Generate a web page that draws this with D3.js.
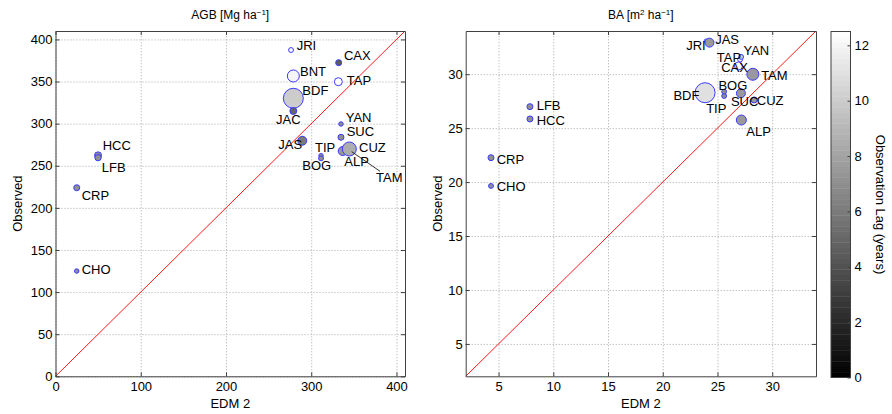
<!DOCTYPE html>
<html>
<head>
<meta charset="utf-8">
<script src="https://cdn.jsdelivr.net/npm/d3@7"></script>
<style>
body { margin: 0; background: white; }
text { font-family: Helvetica, "Liberation Sans", Arial, sans-serif; fill: #000; }
</style>
</head>
<body>
<div id="chart"></div>
<script>
// Site names (drawing order)
var sites = ["JRI","JAS","CAX","BNT","TAP","YAN","BDF","JAC","SUC","TIP","BOG","ALP","TAM","CUZ","HCC","LFB","CRP","CHO"];

// AGB panel data
var agbModel = [276.3, 289.5, 332.2, 279.0, 331.8, 334.9, 279.0, 279.0, 334.9, 311.5, 311.5, 336.9, 347.5, 344.7, 49.9, 49.9, 24.9, 24.9];
var agbObs   = [387.4, 279.7, 372.4, 356.6, 349.8, 299.6, 330.1, 315.0, 283.8, 261.9, 258.8, 267.5, 266.7, 269.9, 262.4, 259.6, 223.9, 125.0];
var agbLag   = [12.5, 6, 4.5, 12, 12.5, 7, 10, 5, 7, 7, 7, 7.5, 7, 8.5, 7, 7, 7, 7];
var agbSize  = [6, 20, 9, 36, 16, 5, 100, 12, 9, 5, 6, 20, 4, 49, 12, 10, 9, 5];

// BA panel data (BNT and JAC missing)
var baModel = [23.97, 24.27, 26.92, null, 27.07, 27.16, 23.87, null, 27.14, 25.61, 25.61, 27.18, 28.23, 28.35, 7.87, 7.87, 4.31, 4.31];
var baObs   = [33.08, 32.92, 30.76, null, 31.36, 31.60, 28.28, null, 28.23, 27.98, 28.38, 25.75, 29.99, 27.61, 25.85, 26.99, 22.26, 19.64];
var baLag   = [12.5, 7.5, 12.5, null, 12.5, 10, 11, null, 7.5, 7, 7, 7.5, 7.5, 7.5, 7, 7, 7, 7];
var baSize  = [4, 20, 16, null, 6, 6, 100, null, 20, 6, 6, 25, 36, 9, 9, 9, 9, 6];

// Tick values
var agbTicksX = [0, 100, 200, 300, 400];
var agbTicksY = [0, 50, 100, 150, 200, 250, 300, 350, 400];
var baTicks = [5, 10, 15, 20, 25, 30];
var lagTicks = [0, 2, 4, 6, 8, 10, 12];

// Label placement (px offset of text left / middle from its point)
var agbLabelDx = [5.7, -24, 5.3, 6.7, 8.4, 4.7, 9, -17.3, 5.7, -6, -18.7, 1.6, 24.3, 9.7, 4.7, 3.7, 5, 5];
var agbLabelDy = [-5, 3.6, -7, -5, -1.7, -6.3, -8.3, 8, -6.3, -8.4, 7.4, 10.7, 25.6, -1.7, -9.6, 10, 8, -1.7];
var baLabelDx = [-20, 5.7, -17.3, 0, -23.3, 2.3, -31.7, 0, -10, -18, -5.7, 5, 8.3, 2.7, 6.7, 6.7, 5.7, 5.7];
var baLabelDy = [4, -3.7, 1.7, 0, -1.8, -6.3, 2.3, 0, 7.7, 12.3, -6.7, 11.7, 0.7, 0.3, 1, -1, 1.6, 0.7];
var agbLeaders = ["TAM"];

var width = 892
var height = 414
var top_y = 31
var bottom_y = 376.3

var svg = d3.select("#chart")
    .append("svg")
    .attr("width", width)
    .attr("height", height)
    .style("background-color", "white")

var r_scale = d3.scaleSqrt().domain([0, 100]).range([0, 10]);
var c_scale = d3.scaleLinear().domain([0, 12.5]).range(["#000000", "#ffffff"]).clamp(true);

function drawPanel(opt) {
    var x_scale = d3.scaleLinear().domain(opt.domain).range([opt.left, opt.right]);
    var y_scale = d3.scaleLinear().domain(opt.domain).range([bottom_y, top_y]);
    var w = opt.right - opt.left
    var h = bottom_y - top_y

    // grid
    svg.append("g")
        .attr("transform", "translate(0," + bottom_y + ")")
        .call(d3.axisBottom(x_scale).tickValues(opt.ticksX).tickSize(-h).tickFormat(""))
        .call(function(g) { g.select(".domain").remove(); })
        .selectAll("line")
        .attr("stroke", "#a8a8a8")
        .attr("stroke-dasharray", "1,2");
    svg.append("g")
        .attr("transform", "translate(" + opt.left + ",0)")
        .call(d3.axisLeft(y_scale).tickValues(opt.ticksY).tickSize(-w).tickFormat(""))
        .call(function(g) { g.select(".domain").remove(); })
        .selectAll("line")
        .attr("stroke", "#a8a8a8")
        .attr("stroke-dasharray", "1,2");

    // 1:1 line
    svg.append("line")
        .attr("x1", x_scale(opt.domain[0]))
        .attr("y1", y_scale(opt.domain[0]))
        .attr("x2", x_scale(opt.domain[1]))
        .attr("y2", y_scale(opt.domain[1]))
        .attr("stroke", "#ff0000")
        .attr("stroke-width", 0.9);

    // axes with inward ticks
    var xb = svg.append("g")
        .attr("transform", "translate(0," + bottom_y + ")")
        .call(d3.axisBottom(x_scale).tickValues(opt.ticksX).tickSizeInner(-4).tickSizeOuter(0).tickPadding(5));
    var yl = svg.append("g")
        .attr("transform", "translate(" + opt.left + ",0)")
        .call(d3.axisLeft(y_scale).tickValues(opt.ticksY).tickSizeInner(-4).tickSizeOuter(0).tickPadding(3));
    var xt = svg.append("g")
        .attr("transform", "translate(0," + top_y + ")")
        .call(d3.axisTop(x_scale).tickValues(opt.ticksX).tickSizeInner(-4).tickSizeOuter(0).tickFormat(""));
    var yr = svg.append("g")
        .attr("transform", "translate(" + opt.right + ",0)")
        .call(d3.axisRight(y_scale).tickValues(opt.ticksY).tickSizeInner(-4).tickSizeOuter(0).tickFormat(""));
    [xb, yl, xt, yr].forEach(function(g) {
        g.selectAll("path, line").attr("stroke", "#404040");
        g.selectAll("text").style("font-size", "13px").attr("fill", "#000");
    });

    // points
    var idx = d3.range(sites.length).filter(function(i) { return opt.xs[i] != null; });
    svg.append("g")
        .selectAll("circle")
        .data(idx)
        .enter()
        .append("circle")
        .attr("cx", function(i) { return x_scale(opt.xs[i]); })
        .attr("cy", function(i) { return y_scale(opt.ys[i]); })
        .attr("r", function(i) { return r_scale(opt.size[i]); })
        .style("fill", function(i) { return c_scale(opt.lag[i]); })
        .style("stroke", "#3a3aff")
        .style("stroke-width", 1);

    // leader lines
    svg.append("g")
        .selectAll("line")
        .data(idx.filter(function(i) { return opt.leaders.indexOf(sites[i]) >= 0; }))
        .enter()
        .append("line")
        .attr("x1", function(i) { return x_scale(opt.xs[i]); })
        .attr("y1", function(i) { return y_scale(opt.ys[i]); })
        .attr("x2", function(i) { return x_scale(opt.xs[i]) + opt.dx[i] + 4; })
        .attr("y2", function(i) { return y_scale(opt.ys[i]) + opt.dy[i] - 6; })
        .attr("stroke", "#000")
        .attr("stroke-width", 0.8);

    // labels
    svg.append("g")
        .selectAll("text")
        .data(idx)
        .enter()
        .append("text")
        .attr("x", function(i) { return x_scale(opt.xs[i]) + opt.dx[i]; })
        .attr("y", function(i) { return y_scale(opt.ys[i]) + opt.dy[i]; })
        .attr("dy", "0.36em")
        .style("font-size", "13px")
        .text(function(i) { return sites[i]; });

    // titles and axis labels
    var cx = (opt.left + opt.right) / 2
    var title = svg.append("text")
        .attr("x", cx)
        .attr("y", 19)
        .attr("text-anchor", "middle")
        .style("font-size", "12px");
    opt.title.forEach(function(p) {
        var t = title.append("tspan").text(p[0]);
        if (p[1]) t.attr("baseline-shift", "super").style("font-size", "8px");
    });

    svg.append("text")
        .attr("x", cx)
        .attr("y", 408)
        .attr("text-anchor", "middle")
        .style("font-size", "13px")
        .text("EDM 2");

    svg.append("text")
        .attr("transform", "translate(" + opt.ylabX + "," + ((top_y + bottom_y) / 2) + ") rotate(-90)")
        .attr("text-anchor", "middle")
        .style("font-size", "13px")
        .text("Observed");
}

drawPanel({
    left: 55.5, right: 405, domain: [0, 410],
    ticksX: agbTicksX, ticksY: agbTicksY,
    xs: agbModel, ys: agbObs, lag: agbLag, size: agbSize,
    dx: agbLabelDx, dy: agbLabelDy, leaders: agbLeaders,
    title: [["AGB [Mg ha"], ["\u22121", true], ["]"]],
    ylabX: 22
});

drawPanel({
    left: 465.7, right: 816, domain: [2, 34],
    ticksX: baTicks, ticksY: baTicks,
    xs: baModel, ys: baObs, lag: baLag, size: baSize,
    dx: baLabelDx, dy: baLabelDy, leaders: [],
    title: [["BA [m"], ["2", true], [" ha"], ["\u22121", true], ["]"]],
    ylabX: 442
});

// Colorbar

var cb_left = 831
var cb_w = 19.5
var cb_scale = d3.scaleLinear().domain([0, 12.5]).range([377.5, 31.5]);
var levels = d3.range(64);
var step = 12.5 / 64;

svg.append("g")
    .selectAll("rect")
    .data(levels)
    .enter()
    .append("rect")
    .attr("x", cb_left)
    .attr("y", function(d) { return cb_scale((d + 1) * step); })
    .attr("width", cb_w)
    .attr("height", function(d) { return cb_scale(d * step) - cb_scale((d + 1) * step) + 0.4; })
    .style("fill", function(d) { return c_scale((d + 0.5) * step); });

svg.append("rect")
    .attr("x", cb_left)
    .attr("y", cb_scale(12.5))
    .attr("width", cb_w)
    .attr("height", cb_scale(0) - cb_scale(12.5))
    .style("fill", "none")
    .style("stroke", "#404040");

var cbAxis = svg.append("g")
    .attr("transform", "translate(" + (cb_left + cb_w) + ",0)")
    .call(d3.axisRight(cb_scale).tickValues(lagTicks).tickSizeInner(-3).tickSizeOuter(0).tickPadding(4));
cbAxis.select(".domain").remove();
cbAxis.selectAll("line").attr("stroke", "#404040");
cbAxis.selectAll("text").style("font-size", "13px").attr("fill", "#000");

svg.append("text")
    .attr("transform", "translate(876," + ((31.5 + 377.5) / 2) + ") rotate(90)")
    .attr("text-anchor", "middle")
    .style("font-size", "13px")
    .text("Observation Lag (years)");
</script>
</body>
</html>
